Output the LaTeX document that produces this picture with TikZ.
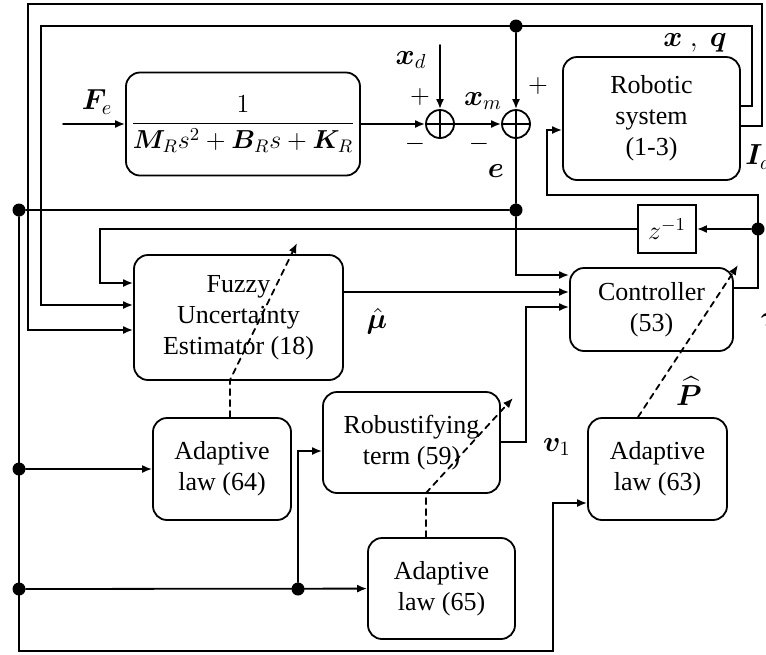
\documentclass[tikz,border=0pt]{standalone}
\usepackage{fix-cm}
\usepackage{amsmath}
\usepackage{bm}
\usepackage{fontspec}
\setmainfont{Liberation Serif}
\usetikzlibrary{arrows.meta}

\begin{document}
\begin{tikzpicture}[x=0.5pt, y=-0.5pt, font={\fontsize{13}{15.5}\selectfont}, line cap=round,
        >={Latex[length=5pt,width=4pt]},
        block/.style={draw, line width=0.9pt, rounded corners=7pt, align=center, inner sep=0pt},
        sumnode/.style={draw, circle, line width=0.9pt, minimum size=14pt, inner sep=0pt,
            path picture={\draw[line width=0.9pt] (path picture bounding box.north) -- (path picture bounding box.south)
                (path picture bounding box.west) -- (path picture bounding box.east);}},
        dot/.style={circle, fill=black, minimum size=6.5pt, inner sep=0pt},
        wire/.style={line width=0.9pt},
        dashwire/.style={line width=0.9pt, dash pattern=on 3pt off 2.5pt},
        sig/.style={font={\fontsize{14.5}{17}\selectfont}}]
            \useasboundingbox (0,0) rectangle (766,654);

            % blocks
            \node[block, minimum width=117pt, minimum height=51.5pt] (tf) at (243,124) {$\dfrac{1}{\bm{M}_R s^2+\bm{B}_R s+\bm{K}_R}$};
            \node[block, minimum width=88.5pt, minimum height=61.5pt] (robot) at (651.5,118.5) {Robotic\\system\\(1-3)};
            \node[block, minimum width=104.5pt, minimum height=62.5pt] (fuzzy) at (238.5,317.5) {Fuzzy\\Uncertainty\\Estimator (18)};
            \node[block, minimum width=81.5pt, minimum height=41.5pt] (ctrl) at (651.5,309.5) {Controller\\(53)};
            \node[draw, line width=0.9pt, minimum width=29pt, minimum height=24pt, inner sep=0pt] (zinv) at (667,229) {$z^{-1}$};
            \node[block, minimum width=88.5pt, minimum height=50.5pt] (robust) at (411.5,442.5) {Robustifying\\term (59)};
            \node[block, minimum width=69pt, minimum height=51pt] (law64) at (222,469) {Adaptive\\law (64)};
            \node[block, minimum width=73.5pt, minimum height=50.5pt] (law65) at (441.5,588.5) {Adaptive\\law (65)};
            \node[block, minimum width=69.5pt, minimum height=51pt] (law63) at (657.5,469) {Adaptive\\law (63)};

            \node[sumnode] (sum1) at (440,124) {};
            \node[sumnode] (sum2) at (516,124) {};

            % junctions
            \node[dot] (jtop) at (516,26) {};
            \node[dot] (je) at (516,210) {};
            \node[dot] (jl1) at (19,210) {};
            \node[dot] (jl2) at (19,469) {};
            \node[dot] (jl3) at (19,589) {};
            \node[dot] (jr) at (298,589) {};
            \node[dot] (jz) at (758,229) {};

            \coordinate (fein) at (63,124);
            \coordinate (xdin) at (440,45);
            \coordinate (lbot) at (19,651);

            % signal paths
            \draw[wire,->] (fein) -- (tf);
            \draw[wire,->] (tf) -- (sum1);
            \draw[wire,->] (xdin) -- (sum1);
            \draw[wire,->] (sum1) -- (sum2);
            \draw[wire,->] (jtop) -- (sum2);
            \draw[wire] (sum2) -- (je);
            \draw[wire] (je) -- (jl1);
            \draw[wire,->] (je) |- (ctrl.west |- 0,275);

            \draw[wire,->] (robot.east |- 0,106) -| (752,26) -| (41,305) -- (fuzzy.west |- 0,305);
            \draw[wire,->] (robot.east |- 0,126) -| (762,4) -| (28,330) -- (fuzzy.west |- 0,330);

            \draw[wire,->] (ctrl.east |- 0,288) -| (758,195) -| (547,130) -- (robot.west |- 0,130);
            \draw[wire,->] (jz) -- (zinv);
            \draw[wire,->] (zinv) -| (100,283) -- (fuzzy.west |- 0,283);

            \draw[wire,->] (fuzzy.east |- 0,292) -- (ctrl.west |- 0,292);
            \draw[wire,->] (robust.east |- 0,442) -| (526,307) -- (ctrl.west |- 0,307);

            \draw[wire,->] (jl1) -- (lbot) -| (553,503) -- (law63.west |- 0,503);
            \draw[wire,->] (jl2) -- (law64);
            \draw[wire,->] (jl3) -- (law65);
            \draw[wire,->] (jr) |- (robust.west |- 0,451);

            % adaptation (dashed)
            \draw[dashwire,->] (law64.north -| 230,0) -- (230,380) -- (297,243);
            \draw[dashwire,->] (law65.north -| 426,0) -- (426,493) -- (513,398);
            \draw[dashwire,->] (law63.north -| 638,0) -- (738,265);

            % labels
            \node[sig] (lFe) at (97,102) {$\bm{F}_e$};
            \node[sig] (lxd) at (411,60) {$\bm{x}_d$};
            \node[sig] (lxm) at (483,101) {$\bm{x}_m$};
            \node[sig] (le) at (496,171) {$\bm{e}$};
            \node[sig] (lxq) at (695,43) {$\bm{x}\ ,\ \bm{q}$};
            \node[sig, anchor=west, inner sep=0pt] (lId) at (745,157) {$\bm{I}_d$};
            \node[sig] (lmu) at (377,321) {$\hat{\bm{\mu}}$};
            \node[sig] (lv1) at (557,447) {$\bm{v}_1$};
            \node[sig] (lP) at (689,391) {$\widehat{\bm{P}}$};
            \node[sig, anchor=west, inner sep=0pt] (ltau) at (760,320) {$\bm{\tau}$};
            \node (lp1) at (420,97) {$+$};
            \node (lm1) at (415,144) {$-$};
            \node (lm2) at (479,144) {$-$};
            \node (lp2) at (538,86) {$+$};
        \end{tikzpicture}
\end{document}
